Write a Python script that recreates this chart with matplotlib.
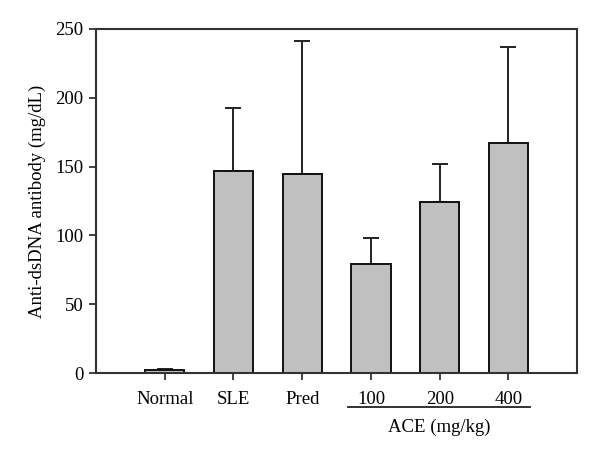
import numpy as np
import matplotlib.pyplot as plt
from matplotlib.lines import Line2D

groups = ['Normal', 'SLE', 'Pred', '100', '200', '400']
means = [2.5, 146.5, 145, 79, 124, 167]
errors = [0.8, 46, 96.5, 19, 28, 70]

plt.rcParams['font.family'] = ['Liberation Serif', 'DejaVu Serif']

fig = plt.figure(figsize=(6, 4.59), dpi=100)
ax = fig.add_axes([0.16, 0.187, 0.802, 0.75])

x = np.arange(1, len(groups) + 1)
ax.bar(x, means, width=0.57, color='#c0c0c0', edgecolor='#111111', linewidth=1.4, zorder=2)
ax.errorbar(x, means, yerr=[np.zeros(len(errors)), errors], fmt='none',
            ecolor='#222222', elinewidth=1.4, capsize=5.5, capthick=1.4, zorder=1)

ax.set_xlim(0, 7)
ax.set_ylim(0, 250)
ax.set_xticks(x)
ax.set_xticklabels(groups, fontsize=13.5)
ax.set_yticks([0, 50, 100, 150, 200, 250])
ax.tick_params(axis='y', labelsize=13.5, direction='out', length=5, width=1.3, color='#333333', pad=4)
ax.tick_params(axis='x', direction='out', length=5, width=1.3, color='#333333', pad=8)
for s in ax.spines.values():
    s.set_color('#333333')
    s.set_linewidth(1.5)
ax.set_ylabel('Anti-dsDNA antibody (mg/dL)', fontsize=13.5, labelpad=7)

# bracket under the ACE doses
x0 = ax.transData.transform((3.67, 0))[0]
x1 = ax.transData.transform((6.31, 0))[0]
fx0, fx1 = fig.transFigure.inverted().transform([(x0, 0), (x1, 0)])[:, 0]
fig.add_artist(Line2D([fx0, fx1], [0.113, 0.113], color='#222222', lw=1.3))
xc = ax.transData.transform((5, 0))[0]
fxc = fig.transFigure.inverted().transform((xc, 0))[0]
fig.text(fxc, 0.068, 'ACE (mg/kg)', ha='center', va='center', fontsize=13.5)

fig.savefig('out.png', dpi=100)
